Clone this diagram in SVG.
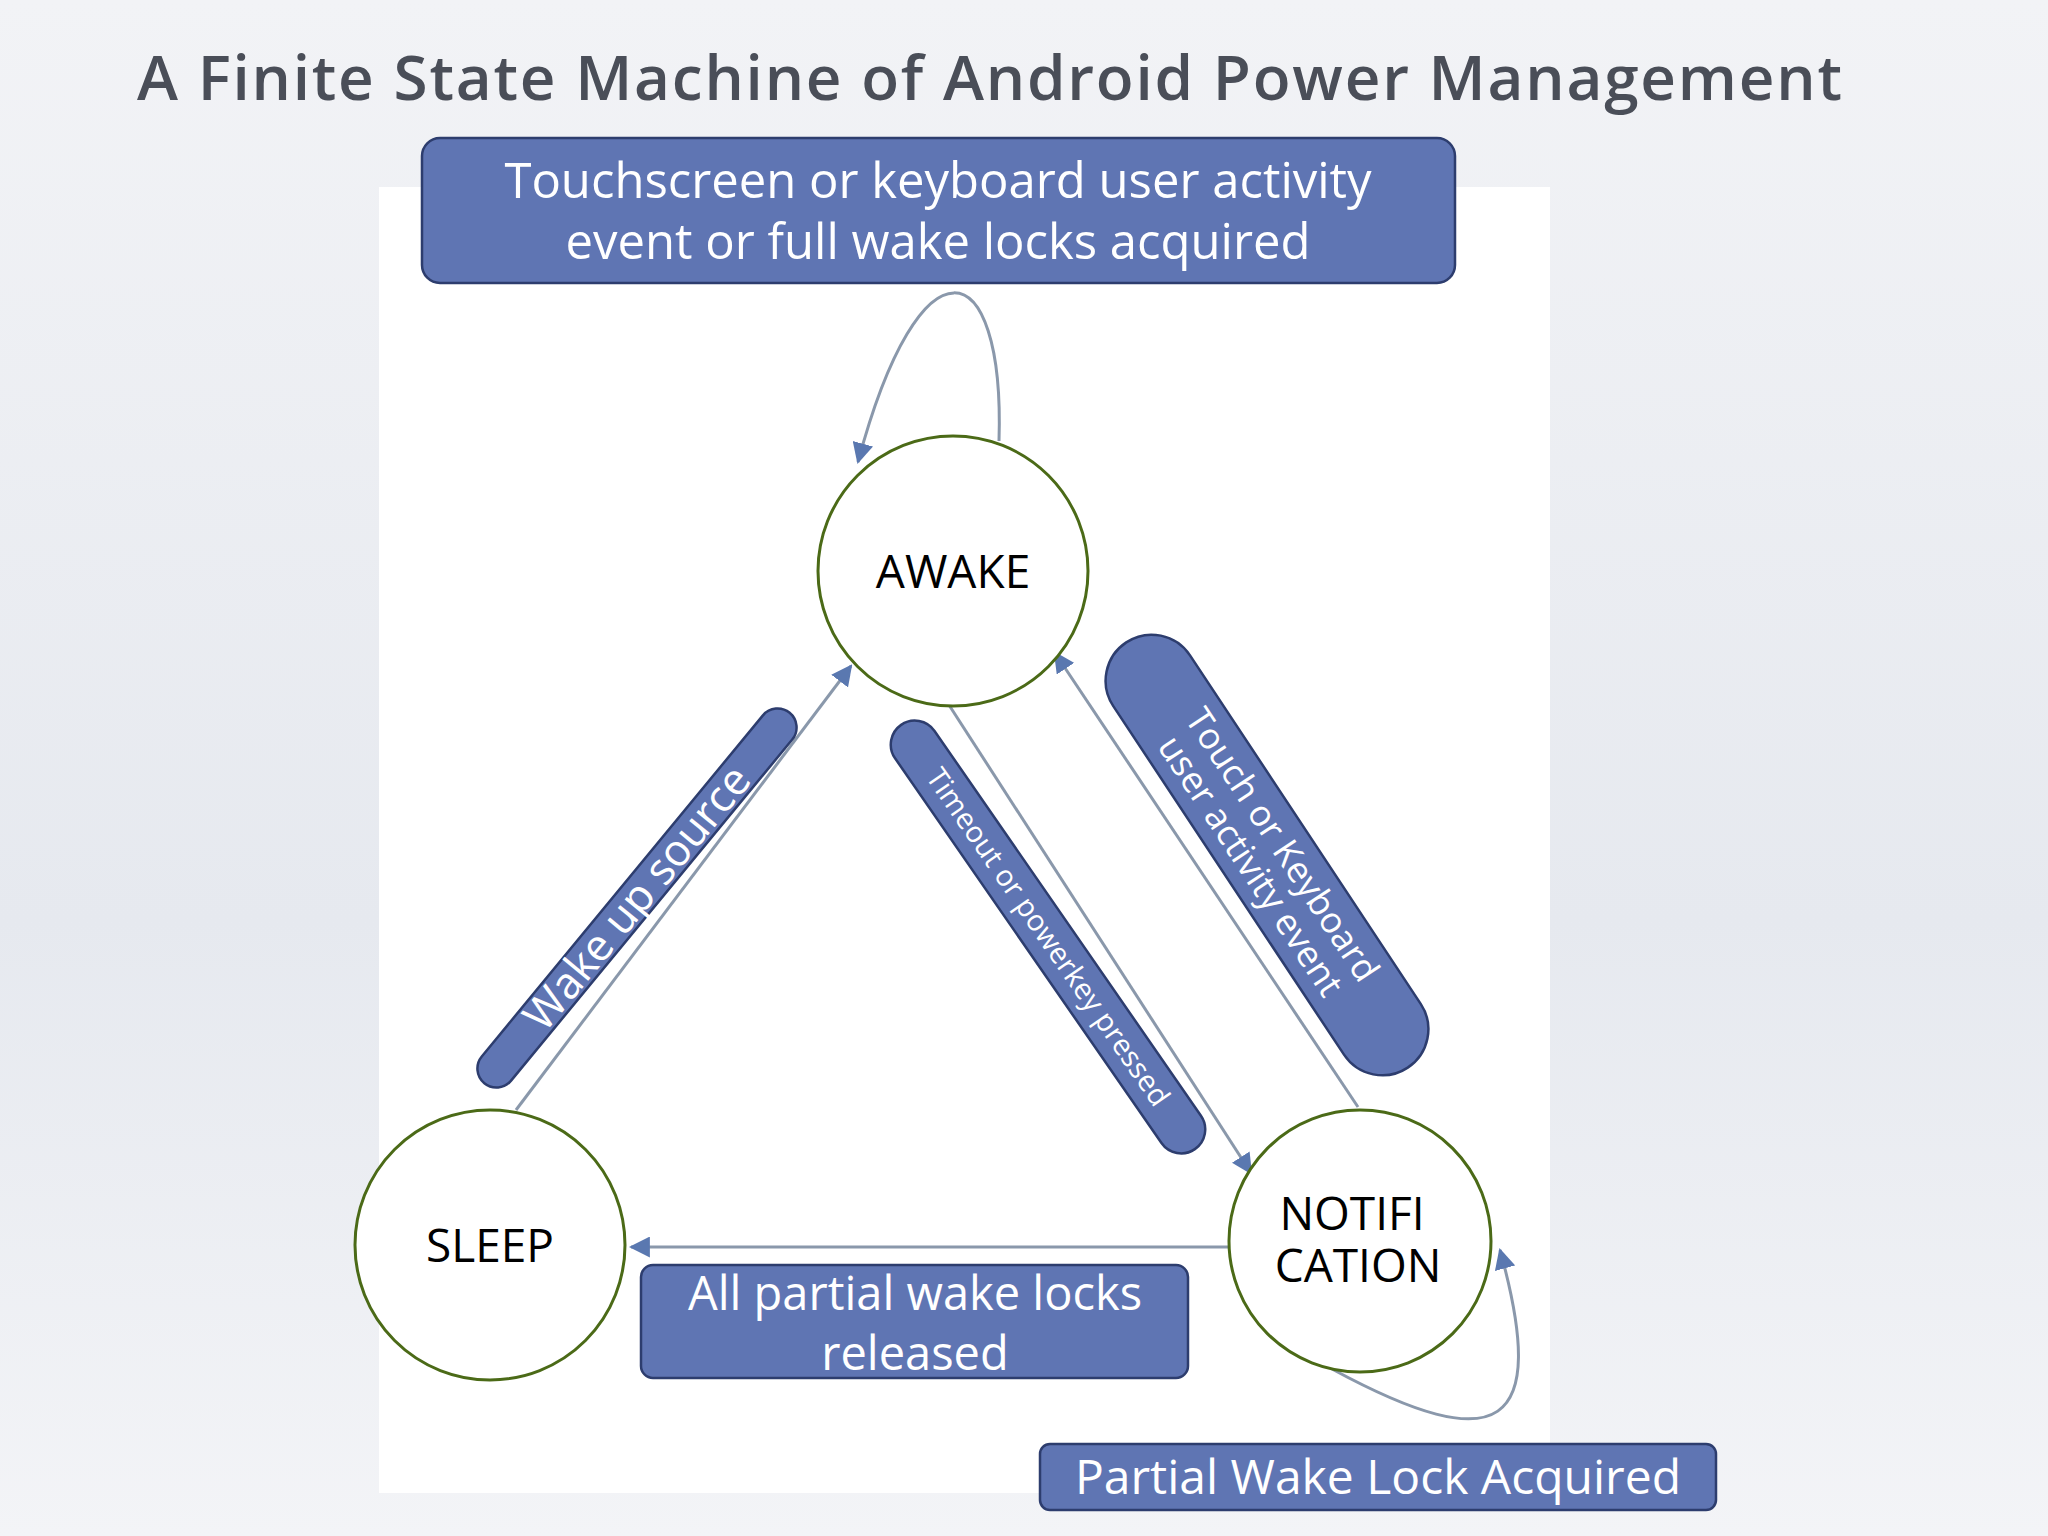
<svg xmlns="http://www.w3.org/2000/svg" width="2048" height="1536" viewBox="0 0 2048 1536">
<defs>
<linearGradient id="bg" x1="0" y1="0" x2="0" y2="1"><stop offset="0" stop-color="#f2f3f6"/><stop offset="0.6" stop-color="#e6e9ef"/><stop offset="1" stop-color="#f3f4f7"/></linearGradient>
<marker id="ah" viewBox="0 0 10 10" refX="9" refY="5" markerWidth="7" markerHeight="7" orient="auto-start-reverse"><path d="M0,0 L10,5 L0,10 z" fill="#5a78b0"/></marker>
<style>
.box{fill:#5f75b3;stroke:#2d3d6e;stroke-width:2.5}
.wt{fill:#fff;font-family:"Open Sans","Noto Sans",sans-serif}
.st{fill:#fff;stroke:#4b6a17;stroke-width:3}
.sl{fill:#000;font-family:"Open Sans","Noto Sans",sans-serif;font-size:46px;text-anchor:middle}
.c{fill:none;stroke:#8a98ab;stroke-width:3;marker-end:url(#ah)}
</style>
</defs>
<rect width="2048" height="1536" fill="url(#bg)"/>
<text x="137" y="100" font-family="Open Sans, sans-serif" font-size="62" font-weight="600" fill="#4a4e58" textLength="1705" lengthAdjust="spacing">A Finite State Machine of Android Power Management</text>
<rect x="379" y="187" width="1171" height="1306" fill="#fff"/>
<g id="connectors">
<path class="c" d="M999,441 C1005,250 920,230 858,462"/>
<path class="c" d="M516,1110 L851,666"/>
<path class="c" d="M949,705 L1251,1173"/>
<path class="c" d="M1358,1107 L1055,653"/>
<path class="c" d="M1228,1247 L631,1247"/>
<path class="c" d="M1332,1369 C1500,1460 1550,1430 1500,1250"/>
</g>
<g id="awake"><circle class="st" cx="953" cy="571" r="135"/><text class="sl" x="953" y="588">AWAKE</text></g>
<g id="sleep"><circle class="st" cx="490" cy="1245" r="135"/><text class="sl" x="490" y="1262">SLEEP</text></g>
<g id="notification"><circle class="st" cx="1360" cy="1241" r="131"/><text class="sl" x="1352" y="1230" font-size="40">NOTIFI</text><text class="sl" x="1358" y="1282" font-size="40">CATION</text></g>
<g id="lbl-top"><rect class="box" x="422" y="138" width="1033" height="145" rx="18"/><text class="wt" x="938" y="198" font-size="49" text-anchor="middle">Touchscreen or keyboard user activity</text><text class="wt" x="938" y="259" font-size="49" text-anchor="middle">event or full wake locks acquired</text></g>
<g id="lbl-wake" transform="translate(637,898) rotate(-50.5)"><rect class="box" x="-240" y="-19" width="480" height="38" rx="19"/><text class="wt" x="0" y="15" font-size="44" text-anchor="middle">Wake up source</text></g>
<g id="lbl-timeout" transform="translate(1048,937) rotate(55.3)"><rect class="box" x="-258" y="-24" width="516" height="48" rx="24"/><text class="wt" x="0" y="10" font-size="29" text-anchor="middle">Timeout or powerkey pressed</text></g>
<g id="lbl-touch" transform="translate(1267,855) rotate(56.5)"><rect class="box" x="-255" y="-46" width="510" height="92" rx="46"/><text class="wt" x="0" y="-6" font-size="36" text-anchor="middle">Touch or Keyboard</text><text class="wt" x="0" y="32" font-size="36" text-anchor="middle">user activity event</text></g>
<g id="lbl-partial"><rect class="box" x="641" y="1265" width="547" height="113" rx="12"/><text class="wt" x="915" y="1310" font-size="47" text-anchor="middle">All partial wake locks</text><text class="wt" x="915" y="1370" font-size="47" text-anchor="middle">released</text></g>
<g id="lbl-acq"><rect class="box" x="1040" y="1444" width="676" height="66" rx="10"/><text class="wt" x="1378" y="1494" font-size="48" text-anchor="middle">Partial Wake Lock Acquired</text></g>
</svg>
